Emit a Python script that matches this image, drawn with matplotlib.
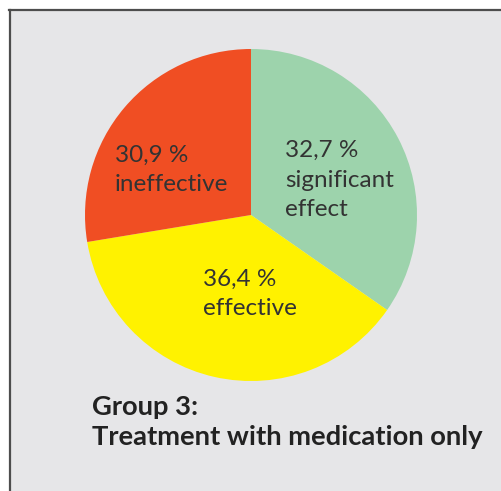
import matplotlib
matplotlib.use('Agg')
import matplotlib.pyplot as plt
from matplotlib.lines import Line2D

plt.rcParams['font.family'] = ['Lato', 'DejaVu Sans']

# data
labels = ['significant\neffect', 'effective', 'ineffective']
label_pct = [32.7, 36.4, 30.9]          # printed on the chart
slice_sizes = [34.7, 37.7, 27.6]        # wedge sizes as drawn in the picture
colors = ['#9dd3ac', '#fff200', '#f04e23']
title = 'Group 3:\nTreatment with medication only'

W, H = 502, 491
fig = plt.figure(figsize=(W / 100, H / 100), dpi=100)
fig.patch.set_facecolor('white')

# gray panel with top / left border
bg = fig.add_axes([10 / W, 0, 1 - 10 / W, 1 - 10 / H], zorder=-1)
bg.set_facecolor('#e6e6e8')
bg.set_xticks([])
bg.set_yticks([])
for s in bg.spines.values():
    s.set_visible(False)
fig.lines.append(Line2D([9 / W, 1], [1 - 10 / H, 1 - 10 / H], transform=fig.transFigure,
                        color='#4d4d4d', lw=1.6))
fig.lines.append(Line2D([10 / W, 10 / W], [0, 1 - 10 / H], transform=fig.transFigure,
                        color='#4d4d4d', lw=1.6))

cx, cy, r = 251, 215, 166
ax = fig.add_axes([(cx - r) / W, 1 - (cy + r) / H, 2 * r / W, 2 * r / H])
ax.pie(slice_sizes, colors=colors, startangle=90, counterclock=False, radius=1,
       wedgeprops=dict(linewidth=0))
ax.set_xlim(-1, 1)
ax.set_ylim(-1, 1)
ax.set_aspect('equal')
ax.axis('off')

# label positions (left x, top y) in pie units
pos = [(0.205, 0.45), (-0.29, -0.325), (-0.82, 0.425)]
for lab, val, (x, y) in zip(labels, label_pct, pos):
    txt = f'{val:.1f} %'.replace('.', ',') + '\n' + lab
    ax.text(x, y, txt, ha='left', va='top', fontsize=17.5, color='#333333',
            linespacing=1.5)

fig.text(92 / W, 1 - 395 / H, title, ha='left', va='top', fontsize=19.7,
         fontweight='bold', color='#222222', linespacing=1.32)

fig.savefig('out.png', dpi=100, facecolor=fig.get_facecolor())
